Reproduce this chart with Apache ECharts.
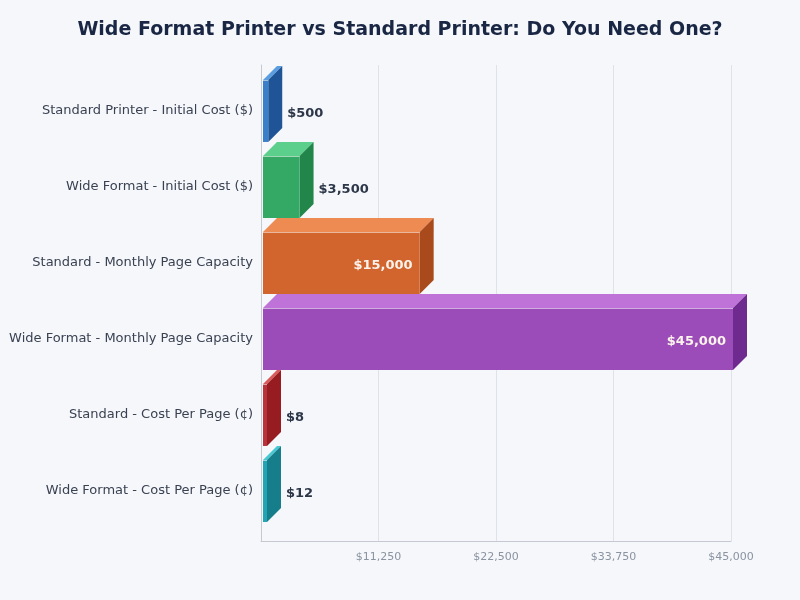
<!DOCTYPE html>
<html>
<head>
<meta charset="utf-8">
<script src="https://cdn.jsdelivr.net/npm/echarts@6/dist/echarts.min.js"></script>
<style>
html,body{margin:0;padding:0;background:#f5f7fb;}
#c{width:800px;height:600px;}
</style>
</head>
<body>
<div id="c"></div>
<script>
const categories = [
  "Standard Printer - Initial Cost ($)",
  "Wide Format - Initial Cost ($)",
  "Standard - Monthly Page Capacity",
  "Wide Format - Monthly Page Capacity",
  "Standard - Cost Per Page (¢)",
  "Wide Format - Cost Per Page (¢)"
];
const values = [500, 3500, 15000, 45000, 8, 12];
const frontColors = ["#3a7fc8", "#34a865", "#d2652e", "#9b4cb8", "#b8323a", "#22a4b4"];
const topColors   = ["#5b9ee0", "#5ccf8c", "#ee8b52", "#bf73d8", "#d85a5a", "#48c8d2"];
const sideColors  = ["#1f5596", "#22854a", "#a84a1b", "#6e2a8e", "#961c22", "#167d8a"];
const xTicks = [0, 11250, 22500, 33750, 45000];

const DX = 14, DY = 14;
function fmt(v){ return '$' + v.toLocaleString('en-US'); }

const chart = echarts.init(document.getElementById('c'));
chart.setOption({
  backgroundColor: '#f5f7fb',
  animation: false,
  title: {
    text: 'Wide Format Printer vs Standard Printer: Do You Need One?',
    left: 'center', top: 16,
    textStyle: {fontFamily: 'DejaVu Sans', fontSize: 19, fontWeight: 'bold', color: '#1a2744'}
  },
  grid: [
    {left: 261, right: 69, top: 73, bottom: 71},
    {left: 261, right: 69, top: 65, bottom: 59}
  ],
  xAxis: [
    {gridIndex: 0, type: 'value', min: xTicks[0], max: xTicks[xTicks.length-1], interval: xTicks[1]-xTicks[0],
     show: false},
    {gridIndex: 1, type: 'value', min: xTicks[0], max: xTicks[xTicks.length-1], interval: xTicks[1]-xTicks[0],
     axisLine: {show: true, lineStyle: {color: '#c4c9d2'}},
     axisTick: {show: false},
     splitLine: {show: true, lineStyle: {color: '#dfe3e9'}},
     axisLabel: {showMinLabel: false, color: '#8a93a0', fontSize: 11, fontFamily: 'DejaVu Sans', margin: 11,
       formatter: v => fmt(v)}}
  ],
  yAxis: [
    {gridIndex: 0, type: 'category', data: categories, inverse: true,
     axisLine: {show: false}, axisTick: {show: false}, splitLine: {show: false},
     axisLabel: {color: '#3a4252', fontSize: 13, fontFamily: 'DejaVu Sans', margin: 8}},
    {gridIndex: 1, type: 'value', min: 0, max: 1,
     axisLine: {show: true, lineStyle: {color: '#c4c9d2'}},
     axisTick: {show: false}, axisLabel: {show: false}, splitLine: {show: false}}
  ],
  series: [{
    type: 'custom',
    xAxisIndex: 0, yAxisIndex: 0,
    data: values.map((v, i) => [v, i]),
    renderItem: function(params, api){
      const v = api.value(0), i = api.value(1);
      const p0 = api.coord([0, i]);
      const p1 = api.coord([v, i]);
      const band = api.size([0, 1])[1];
      const h = band * 0.815;
      const xl = p0[0] + 2;
      const xr = Math.max(p1[0] + 2, xl + 4);
      const yt = p0[1] - h/2, yb = p0[1] + h/2;
      const inside = (xr - xl) > 90;
      const children = [
        {type: 'polygon', shape: {points: [[xl, yt], [xl+DX, yt-DY], [xr+DX, yt-DY], [xr, yt]]},
         style: {fill: topColors[i]}},
        {type: 'polygon', shape: {points: [[xr, yt], [xr+DX, yt-DY], [xr+DX, yb-DY], [xr, yb]]},
         style: {fill: sideColors[i]}},
        {type: 'rect', shape: {x: xl, y: yt, width: xr - xl, height: h},
         style: {fill: frontColors[i]}},
        {type: 'line', shape: {x1: xl, y1: yt + 0.5, x2: xr, y2: yt + 0.5},
         style: {stroke: 'rgba(255,255,255,0.55)', lineWidth: 1}},
        {type: 'text',
         style: inside ? {
           x: xr - 7, y: p0[1] + 3, text: fmt(v), align: 'right', verticalAlign: 'middle',
           fill: '#fbf3ec', font: 'bold 13px "DejaVu Sans"'
         } : {
           x: xr + DX + 5, y: p0[1] + 3, text: fmt(v), align: 'left', verticalAlign: 'middle',
           fill: '#2d3748', font: 'bold 13px "DejaVu Sans"'
         }}
      ];
      return {type: 'group', children: children};
    }
  }]
});
</script>
</body>
</html>
